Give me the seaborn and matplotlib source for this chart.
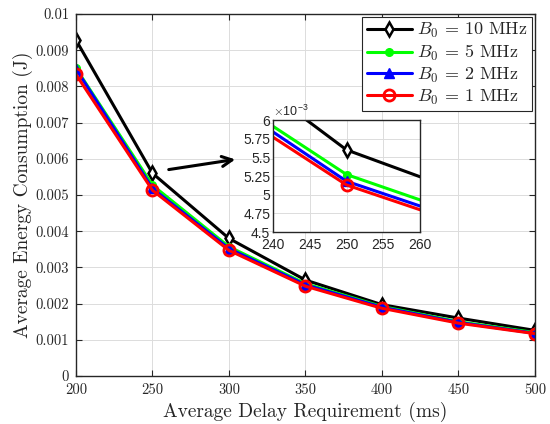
import matplotlib
matplotlib.use("Agg")
import matplotlib.pyplot as plt
import numpy as np
import pandas as pd
import seaborn as sns

# Average delay requirement (ms)
delay = [200, 250, 300, 350, 400, 450, 500]

# Average energy consumption (J) for each bandwidth
e_10mhz = [0.00928, 0.00560, 0.00380, 0.00265, 0.00197, 0.00160, 0.00126]
e_5mhz = [0.00850, 0.00527, 0.00357, 0.00255, 0.00192, 0.00150, 0.00120]
e_2mhz = [0.00848, 0.00518, 0.00352, 0.00252, 0.00190, 0.00148, 0.00118]
e_1mhz = [0.00833, 0.00513, 0.00347, 0.00248, 0.00187, 0.00146, 0.00117]

labels = [r"$B_0$ = 10 MHz", r"$B_0$ = 5 MHz", r"$B_0$ = 2 MHz", r"$B_0$ = 1 MHz"]

main_xticks = [200, 250, 300, 350, 400, 450, 500]
main_yticks = [0, 0.001, 0.002, 0.003, 0.004, 0.005, 0.006, 0.007, 0.008, 0.009, 0.01]
main_ytick_labels = ["0", "0.001", "0.002", "0.003", "0.004", "0.005",
                     "0.006", "0.007", "0.008", "0.009", "0.01"]
inset_xticks = [240, 245, 250, 255, 260]
inset_yticks = [4.5, 4.75, 5.0, 5.25, 5.5, 5.75, 6.0]
inset_ytick_labels = ["4.5", "4.75", "5", "5.25", "5.5", "5.75", "6"]

sns.set_theme(style="whitegrid")
plt.rcParams["font.family"] = ["serif"]
plt.rcParams["font.serif"] = ["cmr10", "DejaVu Serif"]
plt.rcParams["mathtext.fontset"] = "cm"
plt.rcParams["axes.unicode_minus"] = False

series = [
    dict(y=e_10mhz, color="black", marker="d", mfc="white", ms=7, mew=1.8),
    dict(y=e_5mhz, color="#00ff00", marker="o", mfc="#00ff00", ms=5.5, mew=1.0),
    dict(y=e_2mhz, color="blue", marker="^", mfc="blue", ms=7.5, mew=1.0),
    dict(y=e_1mhz, color="red", marker="o", mfc="none", ms=8, mew=2.0),
]

fig = plt.figure(figsize=(5.5, 4.24), dpi=100)
ax = fig.add_axes([76 / 550, 1 - 376 / 424, 459 / 550, 362 / 424])

for s, lab in zip(series, labels):
    df = pd.DataFrame({"delay": delay, "energy": s["y"]})
    sns.lineplot(data=df, x="delay", y="energy", ax=ax, color=s["color"],
                 lw=2.2, marker=s["marker"], markerfacecolor=s["mfc"],
                 markeredgecolor=s["color"], markersize=s["ms"],
                 markeredgewidth=s["mew"], label=lab, legend=False)

ax.set_facecolor("white")
ax.set_xlim(200, 500)
ax.set_ylim(0, 0.01)
ax.set_xticks(main_xticks)
ax.set_xticklabels([str(v) for v in main_xticks])
ax.set_yticks(main_yticks)
ax.set_yticklabels(main_ytick_labels)
ax.grid(True, color="#dcdcdc", lw=0.7)
ax.tick_params(axis="both", which="both", direction="in", length=4, width=0.8,
               top=True, right=True, bottom=True, left=True, labelsize=10.5,
               colors="#262626", pad=5)
for sp in ax.spines.values():
    sp.set_visible(True)
    sp.set_color("#262626")
    sp.set_linewidth(1.0)
ax.set_xlabel("Average Delay Requirement (ms)", fontsize=14, color="#262626", labelpad=4)
ax.set_ylabel("Average Energy Consumption (J)", fontsize=14, color="#262626", labelpad=2)

leg = ax.legend(loc="upper right", fontsize=13, frameon=True, fancybox=False,
                edgecolor="#262626", framealpha=1, borderpad=0.25,
                handlelength=2.5, handletextpad=0.3, labelspacing=0.15,
                borderaxespad=0.15)
leg.get_frame().set_linewidth(0.8)

# Zoomed view around 250 ms
ax_in = fig.add_axes([273 / 550, 1 - 232 / 424, 147 / 550, 112 / 424])
for s in series:
    df = pd.DataFrame({"delay": delay, "energy": np.array(s["y"]) * 1e3})
    sns.lineplot(data=df, x="delay", y="energy", ax=ax_in, color=s["color"],
                 lw=2.2, marker=s["marker"], markerfacecolor=s["mfc"],
                 markeredgecolor=s["color"], markersize=s["ms"],
                 markeredgewidth=s["mew"], legend=False)
ax_in.set_facecolor("white")
ax_in.set_xlim(240, 260)
ax_in.set_ylim(4.5, 6.0)
ax_in.set_xticks(inset_xticks)
ax_in.set_xticklabels([str(v) for v in inset_xticks], family="Liberation Sans")
ax_in.set_yticks(inset_yticks)
ax_in.set_yticklabels(inset_ytick_labels, family="Liberation Sans")
ax_in.set_xlabel("")
ax_in.set_ylabel("")
ax_in.grid(True, color="#dcdcdc", lw=0.7)
ax_in.tick_params(axis="x", direction="in", length=3, labelsize=10,
                  colors="#262626", pad=4)
ax_in.tick_params(axis="y", direction="in", length=3, labelsize=10,
                  colors="#262626", pad=2)
for sp in ax_in.spines.values():
    sp.set_visible(True)
    sp.set_color("#262626")
    sp.set_linewidth(1.0)
ax_in.text(0.0, 1.01, r"$\times$10$^{\mathregular{-3}}$", transform=ax_in.transAxes,
           ha="left", va="bottom", fontsize=9, family="Liberation Sans", color="#262626")

ax.annotate("", xy=(238 / 550, 1 - 159 / 424), xytext=(166 / 550, 1 - 170 / 424),
            xycoords="figure fraction", textcoords="figure fraction",
            arrowprops=dict(arrowstyle="->", color="black", lw=2.2,
                            mutation_scale=18))

fig.savefig("out.png", dpi=100)
